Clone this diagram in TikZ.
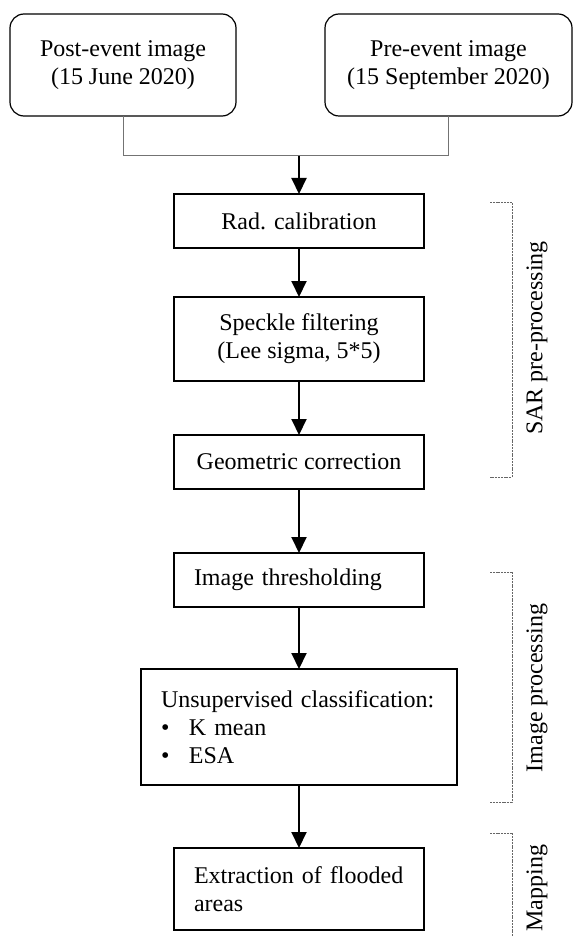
\documentclass[tikz,border=0pt]{standalone}
\usepackage{fontspec}
\setmainfont{Liberation Serif}
\usetikzlibrary{positioning}
\usetikzlibrary{arrows.meta}

\begin{document}
\begin{tikzpicture}[>={Triangle[width=7.5pt,length=8pt]}, node distance=25pt, font=\fontsize{12pt}{14pt}\selectfont]
    \tikzstyle{img}=[draw=black, rounded corners=7pt, minimum height=51pt, align=center, line width=0.6pt, inner sep=0pt, outer sep=0pt]
    \tikzstyle{block}=[draw=black, rectangle, minimum width=125pt, align=center, line width=0.6pt, inner sep=0pt, outer sep=0pt]
    \tikzstyle{lblock}=[block, text width=105pt, inner xsep=10pt, align=left]
    \tikzstyle{flow}=[->, line width=1pt]
    \tikzstyle{merger}=[draw=black!55, line width=0.5pt]
    \tikzstyle{brace}=[draw=black!60, dash pattern=on 1pt off 0.4pt, line width=0.5pt]
    \tikzstyle{phase}=[rotate=90, inner sep=0pt]

    \useasboundingbox (0,0) rectangle (286.5pt,-468pt);

    % input images
    \node[img, minimum width=113pt] (post) at (61.5pt,-32.5pt) {Post-event image\\(15 June 2020)};
    \node[img, minimum width=123.5pt] (pre) at (224.25pt,-32.5pt) {Pre-event image\\(15 September 2020)};
    \coordinate (merge) at (149.5pt,-78pt);

    % processing chain
    \node[block, minimum height=27pt] (rad) at (149.5pt,-110.5pt) {Rad. calibration};
    \node[block, minimum height=42pt, below=24.5pt of rad] (speckle) {Speckle filtering\\(Lee sigma, 5*5)};
    \node[block, minimum height=27pt, below=27pt of speckle] (geo) {Geometric correction};
    \node[lblock, minimum height=27pt, below=32pt of geo] (thresh) {Image thresholding};
    \node[lblock, text width=138pt, minimum height=58pt, below=31pt of thresh] (unsup) {Unsupervised classification:\\\makebox[14pt][l]{\textbullet}K mean\\\makebox[14pt][l]{\textbullet}ESA};
    \node[lblock, minimum height=41pt, below=31.5pt of unsup] (extract) {Extraction of flooded\\areas};

    \draw[merger] (post.south) |- (merge);
    \draw[merger] (pre.south) |- (merge);
    \draw[flow] (merge) -- (rad);
    \draw[flow] (rad) -- (speckle);
    \draw[flow] (speckle) -- (geo);
    \draw[flow] (geo) -- (thresh);
    \draw[flow] (thresh) -- (unsup);
    \draw[flow] (unsup) -- (extract);

    % phase brackets
    \draw[brace] (245pt,-101.5pt) -| (256pt,-238.5pt) -- (245pt,-238.5pt);
    \draw[brace] (245pt,-286pt) -| (256pt,-401pt) -- (245pt,-401pt);
    \draw[brace] (245pt,-416.5pt) -| (256pt,-470pt);

    \node[phase] (sar) at (268.5pt,-169pt) {SAR pre-processing};
    \node[phase] (imgproc) at (268.5pt,-344pt) {Image processing};
    \node[phase] (mapping) at (268.5pt,-444pt) {Mapping};
\end{tikzpicture}
\end{document}
